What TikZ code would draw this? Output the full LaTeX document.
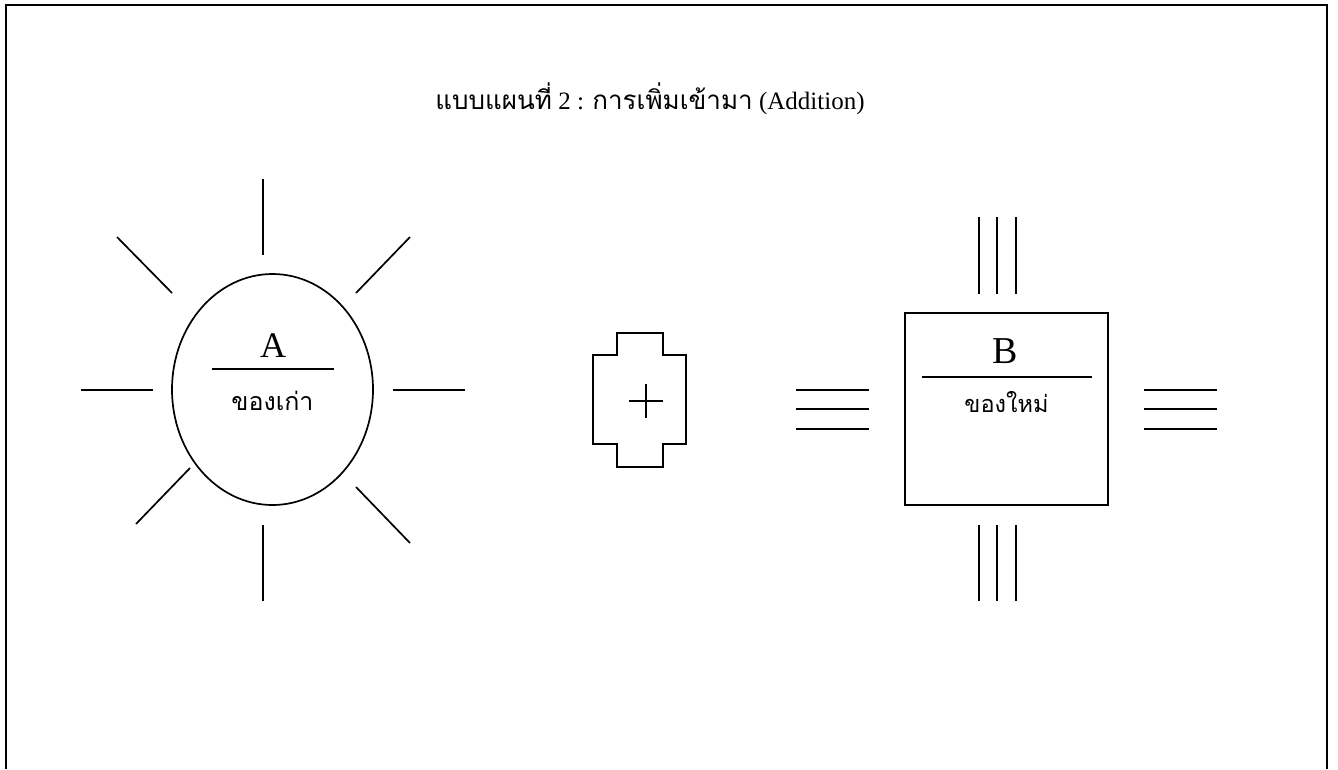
\documentclass[tikz,border=0pt]{standalone}
\usepackage{fontspec}
\setmainfont{Liberation Serif}
\newfontfamily\thaifont[Script=Thai]{Loma}
\usetikzlibrary{shapes.geometric}
\tikzset{
  ln/.style={line width=1.7pt, line cap=butt},
  latbig/.style={font=\fontsize{36}{40}\selectfont, anchor=base, inner sep=0pt},
  thaitxt/.style={font=\thaifont\fontsize{25}{29}\selectfont, anchor=base, inner sep=0pt},
}
\begin{document}
\begin{tikzpicture}[x=1pt,y=-1pt]
\useasboundingbox (0,0) rectangle (1338,769);
\fill[white] (0,0) rectangle (1338,769);
% frame
\draw[ln] (6,769) -- (6,5) -- (1327,5) -- (1327,769);
% title
\node[anchor=base, inner sep=0pt, font=\fontsize{25}{28}\selectfont] (title) at (650,109)
  {{\thaifont\fontsize{26}{30}\selectfont แบบแผนที่} 2 : {\thaifont\fontsize{26}{30}\selectfont การเพิ่มเข้ามา} (Addition)};
% A: ellipse with rays
\node[ellipse, draw, ln, minimum width=201pt, minimum height=231pt, inner sep=0pt] (ea) at (272.5,389.5) {};
\draw[ln] (263,179) -- (263,255);
\draw[ln] (117,237) -- (172,293);
\draw[ln] (410,237) -- (356,293);
\draw[ln] (81,390) -- (153,390);
\draw[ln] (393,390) -- (465,390);
\draw[ln] (190,468) -- (136,524);
\draw[ln] (356,487) -- (410,543);
\draw[ln] (263,525) -- (263,601);
\node[latbig] (la) at (273,357) {A};
\draw[ln] (212,369) -- (334,369);
\node[thaitxt] (ta) at (272.5,410) {ของเก่า};
% plus box
\draw[ln] (617,333) -- (663,333) -- (663,355) -- (686,355) -- (686,444) -- (663,444)
  -- (663,467) -- (617,467) -- (617,444) -- (593,444) -- (593,355) -- (617,355) -- cycle;
\draw[ln] (629,401) -- (663,401);
\draw[ln] (646,384) -- (646,418);
% B: square with triple lines
\node[draw, ln, minimum width=203pt, minimum height=192pt, inner sep=0pt] (sb) at (1006.5,409) {};
\node[latbig, font=\fontsize{38}{42}\selectfont] (lb) at (1005,363) {B};
\draw[ln] (922,377) -- (1092,377);
\node[thaitxt, font=\thaifont\fontsize{23.5}{27}\selectfont] (tb) at (1006.5,412) {ของใหม่};
\foreach \xx in {979,997,1016} {
  \draw[ln] (\xx,217) -- (\xx,294);
  \draw[ln] (\xx,525) -- (\xx,601);
}
\foreach \yy in {390,409,429} {
  \draw[ln] (796,\yy) -- (869,\yy);
  \draw[ln] (1144,\yy) -- (1217,\yy);
}
\end{tikzpicture}
\end{document}
